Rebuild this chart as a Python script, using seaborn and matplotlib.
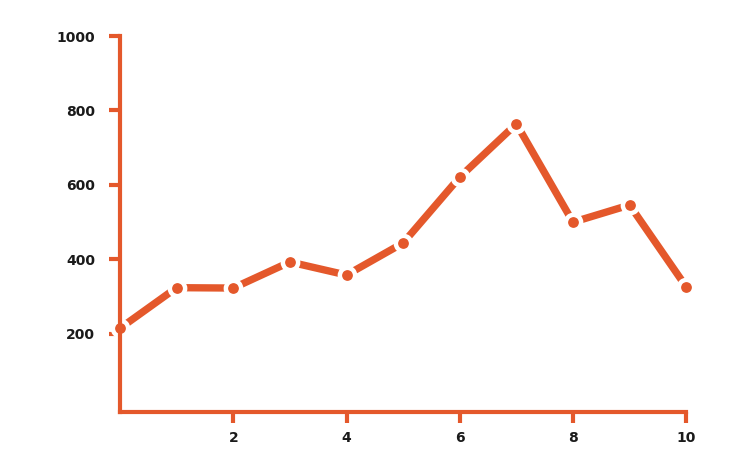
import matplotlib
matplotlib.use("Agg")
import matplotlib.pyplot as plt
import seaborn as sns
import pandas as pd

x_values = [0, 1, 2, 3, 4, 5, 6, 7, 8, 9, 10]
y_values = [215, 324, 323, 393, 358, 444, 621, 764, 500, 546, 326]
x_ticks = [2, 4, 6, 8, 10]
y_ticks = [200, 400, 600, 800, 1000]

sns.set_style("white")
plt.rcParams['font.family'] = ['DejaVu Sans']

orange = "#E4582B"
df = pd.DataFrame({"x": x_values, "y": y_values})

fig = plt.figure(figsize=(7.5, 4.5), dpi=100)
ax = fig.add_axes([0.16, 0.0844, 0.755, 0.8356])

sns.lineplot(data=df, x="x", y="y", ax=ax, color=orange, linewidth=5.3,
             marker="o", markersize=11, markerfacecolor=orange,
             markeredgecolor="white", markeredgewidth=3.2,
             solid_capstyle="round", clip_on=False, zorder=3)

ax.set_xlim(0, 10)
ax.set_ylim(-10, 1000)
ax.set_xticks(x_ticks)
ax.set_yticks(y_ticks)
ax.set_xlabel("")
ax.set_ylabel("")

for side in ["top", "right"]:
    ax.spines[side].set_visible(False)
for side in ["left", "bottom"]:
    ax.spines[side].set_color(orange)
    ax.spines[side].set_linewidth(3)
    ax.spines[side].set_zorder(4)

ax.tick_params(axis="x", bottom=True, direction="out", length=8, width=3,
               color=orange, labelsize=10, pad=6)
ax.tick_params(axis="y", left=True, direction="out", length=8, width=3,
               color=orange, labelsize=10, pad=10)
for lab in ax.get_xticklabels() + ax.get_yticklabels():
    lab.set_fontweight("bold")
    lab.set_color("#1a1a1a")

fig.savefig("out.png", dpi=100)
